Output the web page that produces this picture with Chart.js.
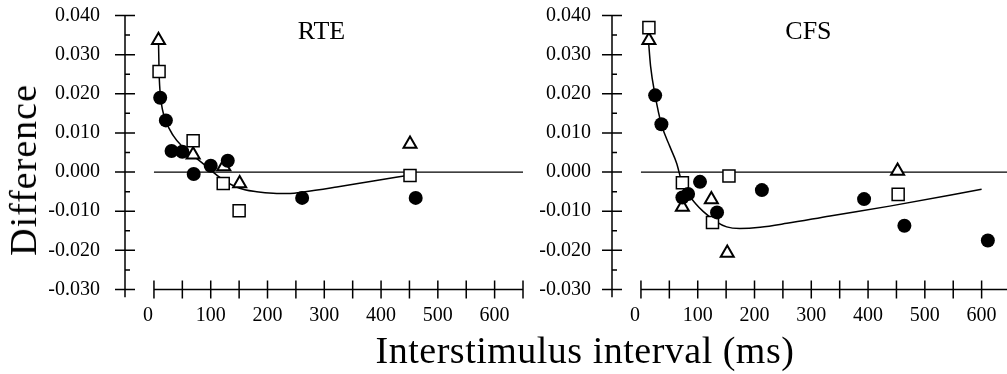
<!DOCTYPE html>
<html>
<head>
<meta charset="utf-8">
<script src="https://cdn.jsdelivr.net/npm/chart.js@4.4.0/dist/chart.umd.min.js"></script>
<style>
  body { margin: 0; width: 1007px; height: 374px; overflow: hidden; background: #fff; position: relative; font-family: "Liberation Serif", serif; }
  .panel { position: absolute; top: 0; }
  #left { left: 0; }
  #right { left: 487px; }
  #ytitle { position: absolute; left: 23px; top: 170px; transform: translate(-50%, -50%) rotate(-90deg); font-size: 38px; letter-spacing: 1px; white-space: nowrap; }
  #xtitle { position: absolute; left: 585px; top: 350px; transform: translate(-50%, -50%); font-size: 38px; letter-spacing: 0.5px; white-space: nowrap; }
</style>
</head>
<body>
<canvas id="left" class="panel" width="525" height="374"></canvas>
<canvas id="right" class="panel" width="525" height="374"></canvas>
<div id="ytitle">Difference</div>
<div id="xtitle">Interstimulus interval (ms)</div>
<script>
// RTE panel
const rteCircleX = [11, 21, 31, 50, 70, 100, 130, 261, 461];
const rteCircleY = [0.0190, 0.0132, 0.0054, 0.0052, -0.0005, 0.0016, 0.0029, -0.0066, -0.0066];
const rteSquareX = [9, 69, 122, 150, 451];
const rteSquareY = [0.0257, 0.0080, -0.0029, -0.0099, -0.0009];
const rteTriangleX = [8, 69, 123, 151, 451];
const rteTriangleY = [0.0337, 0.0044, 0.0014, -0.0029, 0.0072];
const rteFitX = [8, 9, 12, 21, 34, 51, 69, 87, 104, 120, 140, 160, 181, 210, 240, 263, 322, 381, 449];
const rteFitY = [0.0337, 0.0257, 0.0189, 0.0132, 0.0093, 0.0064, 0.0042, 0.0021, 0.0000, -0.0018, -0.0035, -0.0045, -0.0050, -0.0054, -0.0055, -0.0051, -0.0038, -0.0024, -0.0008];

// CFS panel
const cfsCircleX = [25, 36, 73, 83, 104, 134, 213, 393, 464, 611];
const cfsCircleY = [0.0196, 0.0122, -0.0065, -0.0056, -0.0025, -0.0103, -0.0046, -0.0069, -0.0137, -0.0175];
const cfsSquareX = [14, 73, 126, 155, 453];
const cfsSquareY = [0.0369, -0.0027, -0.0129, -0.0010, -0.0057];
const cfsTriangleX = [14, 73, 124, 152, 452];
const cfsTriangleY = [0.0337, -0.0089, -0.0070, -0.0207, 0.0003];
const cfsFitX = [13, 17, 25, 36, 51, 63, 72, 83, 96, 110, 133, 151, 174, 210, 257, 333, 438, 600];
const cfsFitY = [0.0340, 0.0270, 0.0196, 0.0122, 0.0065, 0.0022, -0.0026, -0.0056, -0.0080, -0.0101, -0.0127, -0.0140, -0.0144, -0.0141, -0.0131, -0.0112, -0.0087, -0.0044];

// axes
const yTickValues = [0.04, 0.03, 0.02, 0.01, 0, -0.01, -0.02, -0.03];
const yTickLabels = ['0.040', '0.030', '0.020', '0.010', '0.000', '-0.010', '-0.020', '-0.030'];
const yMinorValues = [0.035, 0.025, 0.015, 0.005, -0.005, -0.015, -0.025];
const xTickValues = [0, 50, 100, 150, 200, 250, 300, 350, 400, 450, 500, 550, 600, 650];
const xLabelValues = [0, 100, 200, 300, 400, 500, 600];
const zeroLineX = [0, 650];

function pts(xs, ys) {
  return xs.map((x, i) => ({ x: x, y: ys[i] }));
}

const axesPlugin = {
  id: 'panelAxes',
  beforeDatasetsDraw(chart, args, opts) {
    const ctx = chart.ctx;
    const xs = chart.scales.x, ys = chart.scales.y;
    const ax = chart.chartArea.left;
    ctx.save();
    ctx.strokeStyle = '#000';
    ctx.lineWidth = 1.5;
    ctx.beginPath();
    // y axis
    ctx.moveTo(ax, ys.getPixelForValue(0.04));
    ctx.lineTo(ax, ys.getPixelForValue(-0.032));
    yTickValues.forEach(v => {
      const py = ys.getPixelForValue(v);
      ctx.moveTo(ax - 10, py);
      ctx.lineTo(ax + 10, py);
    });
    yMinorValues.forEach(v => {
      const py = ys.getPixelForValue(v);
      ctx.moveTo(ax, py);
      ctx.lineTo(ax + 5, py);
    });
    // x axis
    const py0 = ys.getPixelForValue(-0.03);
    ctx.moveTo(xs.getPixelForValue(0), py0);
    ctx.lineTo(xs.getPixelForValue(650), py0);
    xTickValues.forEach(v => {
      const px = xs.getPixelForValue(v);
      ctx.moveTo(px, py0 - 9);
      ctx.lineTo(px, py0 + 9);
    });
    ctx.stroke();

    ctx.fillStyle = '#000';
    ctx.font = '20px "Liberation Serif"';
    ctx.textAlign = 'right';
    ctx.textBaseline = 'middle';
    yTickValues.forEach((v, i) => {
      ctx.fillText(yTickLabels[i], ax - opts.labelGap, ys.getPixelForValue(v));
    });
    ctx.textAlign = 'center';
    ctx.textBaseline = 'top';
    xLabelValues.forEach(v => {
      ctx.fillText(String(v), xs.getPixelForValue(v) - (v === 0 ? 6 : 0), py0 + 16);
    });
    ctx.font = '26px "Liberation Serif"';
    ctx.textBaseline = 'middle';
    ctx.fillText(opts.title, xs.getPixelForValue(295), ys.getPixelForValue(0.0357));
    ctx.restore();
  }
};

function makePanel(id, title, labelGap, cx, cy, sx, sy, tx, ty, fx, fy) {
  new Chart(document.getElementById(id), {
    type: 'scatter',
    data: {
      datasets: [
        { data: pts(cx, cy), pointStyle: 'circle', pointRadius: 7, backgroundColor: '#000', borderWidth: 0, clip: false },
        { data: pts(sx, sy), pointStyle: 'rect', pointRadius: 8.5, backgroundColor: '#fff', borderColor: '#000', borderWidth: 1.5, clip: false },
        { data: pts(tx, ty), pointStyle: 'triangle', pointRadius: 7.5, backgroundColor: '#fff', borderColor: '#000', borderWidth: 2, clip: false },
        { data: pts(fx, fy), showLine: true, pointRadius: 0, borderColor: '#000', borderWidth: 1.5, cubicInterpolationMode: 'monotone', clip: false },
        { data: pts(zeroLineX, [0, 0]), showLine: true, pointRadius: 0, borderColor: '#000', borderWidth: 1.3, clip: false }
      ]
    },
    options: {
      responsive: false,
      devicePixelRatio: 1,
      animation: false,
      events: [],
      layout: { autoPadding: false, padding: { left: 125, right: 2, top: 15.5, bottom: 84.5 } },
      scales: {
        x: { type: 'linear', min: -51, max: 650, display: false },
        y: { type: 'linear', min: -0.03, max: 0.04, display: false }
      },
      plugins: {
        legend: { display: false },
        tooltip: { enabled: false },
        panelAxes: { title: title, labelGap: labelGap }
      }
    },
    plugins: [axesPlugin]
  });
}

makePanel('left', 'RTE', 25, rteCircleX, rteCircleY, rteSquareX, rteSquareY, rteTriangleX, rteTriangleY, rteFitX, rteFitY);
makePanel('right', 'CFS', 21, cfsCircleX, cfsCircleY, cfsSquareX, cfsSquareY, cfsTriangleX, cfsTriangleY, cfsFitX, cfsFitY);
</script>
</body>
</html>
